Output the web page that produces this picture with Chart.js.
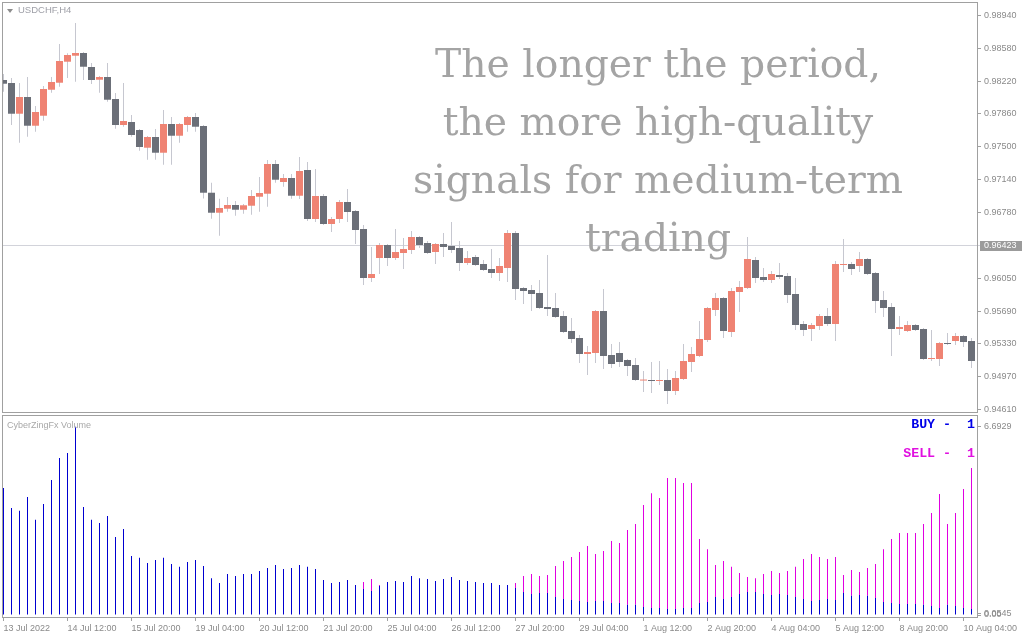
<!DOCTYPE html>
<html>
<head>
<meta charset="utf-8">
<script src="https://cdn.jsdelivr.net/npm/chart.js@4.4.1/dist/chart.umd.min.js"></script>
<style>
html, body { margin: 0; padding: 0; background: #fff; }
#wrap { position: relative; width: 1024px; height: 640px; overflow: hidden; font-family: "Liberation Sans", Arial, sans-serif; }
canvas { position: absolute; left: 0; }
#main { top: 0; }
#vol { top: 414px; }
.lbl { position: absolute; white-space: pre; line-height: 10px; }
#tri { position: absolute; left: 7px; top: 9px; width: 0; height: 0; border-left: 3px solid transparent; border-right: 3px solid transparent; border-top: 4px solid #8c8c8c; }
#title { left: 18px; top: 5px; font-size: 9.5px; color: #9fa0a8; }
#ind { left: 7px; top: 420px; font-size: 9px; color: #a8a8a8; }
.sig { position: absolute; right: 49px; font: bold 13.3px "Liberation Mono", monospace; line-height: 14px; white-space: pre; }
#buy { top: 418px; color: #0000e8; }
#sell { top: 447px; color: #e010e0; }
.note { position: absolute; left: 358px; width: 600px; text-align: center; white-space: nowrap; color: #a4a4a4; font-family: "DejaVu Serif", serif; line-height: 58px; }
</style>
</head>
<body>
<div id="wrap">
  <canvas id="main" width="1024" height="414"></canvas>
  <canvas id="vol" width="1024" height="226"></canvas>
  <div id="tri"></div>
  <div class="lbl" id="title">USDCHF,H4</div>
  <div class="lbl" id="ind">CyberZingFx Volume</div>
  <div class="sig" id="buy">BUY -  1</div>
  <div class="sig" id="sell">SELL -  1</div>
</div>
<script>
// USDCHF H4, bougies
const opens = [
  0.98233, 0.98200, 0.97862, 0.98046, 0.97730, 0.97840, 0.98126, 0.98203, 0.98434, 0.98500,
  0.98530, 0.98376, 0.98236, 0.98266, 0.98024, 0.97738, 0.97771, 0.97683, 0.97488, 0.97606,
  0.97433, 0.97749, 0.97620, 0.97738, 0.97826, 0.97727, 0.96993, 0.96773, 0.96817, 0.96858,
  0.96806, 0.96850, 0.96949, 0.96982, 0.97309, 0.97111, 0.97155, 0.96960, 0.97243, 0.96704,
  0.96957, 0.96649, 0.96704, 0.96891, 0.96792, 0.96594, 0.96055, 0.96275, 0.96418, 0.96275,
  0.96330, 0.96363, 0.96506, 0.96440, 0.96341, 0.96429, 0.96407, 0.96385, 0.96220, 0.96286,
  0.96209, 0.96154, 0.96110, 0.96165, 0.96550, 0.95945, 0.95923, 0.95890, 0.95736, 0.95725,
  0.95637, 0.95472, 0.95395, 0.95219, 0.95230, 0.95692, 0.95208, 0.95230, 0.95153, 0.95098,
  0.94927, 0.94933, 0.94922, 0.94933, 0.94812, 0.94944, 0.95131, 0.95197, 0.95373, 0.95703,
  0.95835, 0.95461, 0.95901, 0.95945, 0.96253, 0.96066, 0.96033, 0.96088, 0.96077, 0.95879,
  0.95549, 0.95494, 0.95527, 0.95637, 0.95549, 0.96198, 0.96209, 0.96187, 0.96264, 0.96110,
  0.95813, 0.95736, 0.95494, 0.95472, 0.95538, 0.95494, 0.95164, 0.95164, 0.95340, 0.95362,
  0.95417, 0.95362
];
const highs = [
  0.98299, 0.98255, 0.98200, 0.98266, 0.97947, 0.98167, 0.98266, 0.98629, 0.98527, 0.98860,
  0.98541, 0.98420, 0.98277, 0.98420, 0.98090, 0.98200, 0.97848, 0.97694, 0.97617, 0.97694,
  0.97903, 0.97826, 0.97760, 0.97837, 0.97870, 0.97738, 0.97103, 0.96927, 0.96946, 0.96902,
  0.96869, 0.97023, 0.97166, 0.97353, 0.97353, 0.97199, 0.97199, 0.97386, 0.97331, 0.97254,
  0.96979, 0.96726, 0.96913, 0.97034, 0.96803, 0.96638, 0.96396, 0.96440, 0.96429, 0.96594,
  0.96495, 0.96572, 0.96517, 0.96462, 0.96440, 0.96550, 0.96671, 0.96462, 0.96352, 0.96308,
  0.96253, 0.96374, 0.96275, 0.96583, 0.96572, 0.95956, 0.95978, 0.96033, 0.96308, 0.95890,
  0.95692, 0.95615, 0.95428, 0.95307, 0.95703, 0.95934, 0.95329, 0.95351, 0.95164, 0.95175,
  0.95032, 0.95131, 0.95142, 0.95054, 0.95032, 0.95329, 0.95296, 0.95582, 0.95736, 0.95890,
  0.95846, 0.95945, 0.96022, 0.96506, 0.96286, 0.96165, 0.96132, 0.96220, 0.96110, 0.96055,
  0.95582, 0.95560, 0.95659, 0.95725, 0.96242, 0.96484, 0.96231, 0.96341, 0.96275, 0.96121,
  0.95912, 0.95780, 0.95637, 0.95582, 0.95549, 0.95505, 0.95483, 0.95351, 0.95450, 0.95450,
  0.95428, 0.95395
];
const lows = [
  0.98104, 0.97738, 0.97543, 0.97609, 0.97664, 0.97785, 0.98093, 0.98159, 0.98255, 0.98214,
  0.98233, 0.98189, 0.98093, 0.97994, 0.97697, 0.97719, 0.97609, 0.97455, 0.97356, 0.97356,
  0.97301, 0.97301, 0.97543, 0.97664, 0.97664, 0.96929, 0.96707, 0.96520, 0.96784, 0.96740,
  0.96762, 0.96751, 0.96784, 0.96839, 0.97103, 0.97059, 0.96927, 0.96924, 0.96682, 0.96671,
  0.96638, 0.96561, 0.96660, 0.96671, 0.96429, 0.95978, 0.96011, 0.96099, 0.96187, 0.96253,
  0.96154, 0.96319, 0.96385, 0.96319, 0.96209, 0.96286, 0.96330, 0.96132, 0.96198, 0.96187,
  0.96132, 0.96055, 0.96022, 0.96011, 0.95813, 0.95769, 0.95692, 0.95714, 0.95637, 0.95615,
  0.95450, 0.95340, 0.95120, 0.94988, 0.95120, 0.95054, 0.95065, 0.95076, 0.94977, 0.94922,
  0.94801, 0.94790, 0.94878, 0.94669, 0.94768, 0.94933, 0.95021, 0.95186, 0.95351, 0.95637,
  0.95395, 0.95406, 0.95681, 0.95934, 0.96000, 0.96011, 0.96000, 0.96044, 0.95780, 0.95483,
  0.95417, 0.95362, 0.95483, 0.95527, 0.95362, 0.96121, 0.96088, 0.96121, 0.96088, 0.95670,
  0.95626, 0.95197, 0.95428, 0.95461, 0.95472, 0.95153, 0.95142, 0.95087, 0.95318, 0.95318,
  0.95296, 0.95065
];
const closes = [
  0.98192, 0.97862, 0.98046, 0.97730, 0.97881, 0.98134, 0.98211, 0.98442, 0.98508, 0.98530,
  0.98379, 0.98233, 0.98266, 0.98016, 0.97738, 0.97782, 0.97628, 0.97496, 0.97606, 0.97433,
  0.97749, 0.97620, 0.97749, 0.97826, 0.97719, 0.96993, 0.96773, 0.96825, 0.96858, 0.96806,
  0.96855, 0.96957, 0.96990, 0.97309, 0.97136, 0.97155, 0.96960, 0.97232, 0.96704, 0.96957,
  0.96649, 0.96704, 0.96891, 0.96781, 0.96583, 0.96055, 0.96099, 0.96418, 0.96275, 0.96341,
  0.96374, 0.96506, 0.96418, 0.96330, 0.96429, 0.96396, 0.96363, 0.96220, 0.96275, 0.96198,
  0.96143, 0.96110, 0.96187, 0.96550, 0.95934, 0.95912, 0.95879, 0.95725, 0.95714, 0.95626,
  0.95461, 0.95384, 0.95219, 0.95241, 0.95692, 0.95197, 0.95109, 0.95131, 0.95087, 0.94933,
  0.94933, 0.94922, 0.94933, 0.94812, 0.94955, 0.95142, 0.95219, 0.95384, 0.95725, 0.95835,
  0.95472, 0.95912, 0.95956, 0.96264, 0.96055, 0.96033, 0.96099, 0.96066, 0.95868, 0.95538,
  0.95483, 0.95538, 0.95637, 0.95549, 0.96209, 0.96209, 0.96154, 0.96264, 0.96099, 0.95802,
  0.95725, 0.95494, 0.95516, 0.95538, 0.95483, 0.95164, 0.95175, 0.95340, 0.95329, 0.95417,
  0.95351, 0.95142
];

// volume indicateur : partie bleue (buy) et partie magenta au-dessus (sell)
const buyVol = [
  4.51, 3.80, 3.70, 4.19, 3.38, 3.94, 4.80, 5.58, 5.76, 6.69,
  3.84, 3.38, 3.27, 3.52, 2.77, 3.06, 2.10, 2.03, 1.85, 1.95,
  2.03, 1.81, 1.71, 1.88, 1.95, 1.74, 1.31, 1.14, 1.46, 1.39,
  1.46, 1.46, 1.56, 1.67, 1.78, 1.63, 1.67, 1.78, 1.71, 1.63,
  1.24, 1.14, 1.17, 1.24, 1.07, 0.92, 0.85, 1.03, 1.17, 1.21,
  1.17, 1.39, 1.31, 1.28, 1.21, 1.28, 1.35, 1.24, 1.21, 1.17,
  1.14, 1.14, 1.07, 1.07, 0.96, 0.82, 0.75, 0.78, 0.78, 0.64,
  0.57, 0.53, 0.50, 0.46, 0.50, 0.50, 0.43, 0.43, 0.36, 0.36,
  0.28, 0.25, 0.25, 0.21, 0.21, 0.25, 0.25, 0.43, 0.46, 0.64,
  0.57, 0.64, 0.75, 0.82, 0.82, 0.75, 0.71, 0.75, 0.71, 0.64,
  0.57, 0.50, 0.53, 0.57, 0.53, 0.78, 0.68, 0.71, 0.68, 0.60,
  0.46, 0.43, 0.39, 0.39, 0.39, 0.36, 0.32, 0.25, 0.36, 0.32,
  0.25, 0.21
];
const sellVol = [
  0, 0, 0, 0, 0, 0, 0, 0, 0, 0,
  0, 0, 0, 0, 0, 0, 0, 0, 0, 0,
  0, 0, 0, 0, 0, 0, 0, 0, 0, 0,
  0, 0, 0, 0, 0, 0, 0, 0, 0, 0,
  0, 0, 0, 0, 0, 0.25, 0.43, 0.04, 0, 0,
  0, 0, 0, 0, 0, 0, 0, 0, 0, 0,
  0, 0, 0, 0, 0.18, 0.57, 0.71, 0.61, 0.64, 1.10,
  1.35, 1.53, 1.74, 1.99, 1.67, 1.77, 2.20, 2.13, 2.66, 2.87,
  3.63, 4.08, 3.91, 4.66, 4.66, 4.44, 4.44, 2.27, 1.88, 1.14,
  1.35, 1.07, 0.74, 0.53, 0.49, 0.71, 0.85, 0.74, 0.85, 1.07,
  1.42, 1.67, 1.53, 1.42, 1.53, 0.64, 0.92, 0.82, 0.99, 1.21,
  1.88, 2.27, 2.52, 2.52, 2.52, 2.87, 3.30, 4.05, 2.87, 3.30,
  4.23, 5.01
];

const priceTicks = [0.98940, 0.98580, 0.98220, 0.97860, 0.97500, 0.97140, 0.96780,
  0.96050, 0.95690, 0.95330, 0.94970, 0.94610];
const lastPrice = 0.96423;
const volTickValues = [6.6929, 0.0545, 0];
const volTickLabels = ['6.6929', '0.0545', '0.00'];
const timeTickIndex = [0, 8, 16, 24, 32, 40, 48, 56, 64, 72, 80, 88, 96, 104, 112, 120];
const timeTickLabels = ['13 Jul 2022', '14 Jul 12:00', '15 Jul 20:00', '19 Jul 04:00', '20 Jul 12:00',
  '21 Jul 20:00', '25 Jul 04:00', '26 Jul 12:00', '27 Jul 20:00', '29 Jul 04:00', '1 Aug 12:00',
  '2 Aug 20:00', '4 Aug 04:00', '5 Aug 12:00', '8 Aug 20:00', '10 Aug 04:00'];
const noteLines = ['The longer the period,', 'the more high-quality', 'signals for medium-term', 'trading'];

const UP = '#ef8373', DOWN = '#6b6f78', WICK = '#c6c7d0';
const BUY_COLOR = '#0000d0', SELL_COLOR = '#e000e0';
const AXIS = '#a0a0a0', LABEL = '#8a8a8a';
const X_MIN = -0.1875, X_MAX = 121.6875;

Chart.defaults.font.family = '"Liberation Sans", Arial, sans-serif';
Chart.defaults.font.size = 9;
Chart.defaults.animation = false;

// cadre gris autour de la zone de tracé
const framePlugin = {
    id: 'frame',
    afterDraw(chart) {
        const { ctx, chartArea: a } = chart;
        ctx.save();
        ctx.strokeStyle = AXIS;
        ctx.lineWidth = 1;
        ctx.strokeRect(a.left + 0.5, a.top + 0.5, a.right - a.left, a.bottom - a.top);
        ctx.restore();
    }
};

// ligne du dernier prix + étiquette sur l'axe
const priceLinePlugin = {
    id: 'priceLine',
    beforeDatasetsDraw(chart) {
        const { ctx, chartArea: a } = chart;
        const y = Math.round(chart.scales.y.getPixelForValue(lastPrice)) + 0.5;
        ctx.save();
        ctx.strokeStyle = '#d2d3da';
        ctx.lineWidth = 1;
        ctx.beginPath();
        ctx.moveTo(a.left, y);
        ctx.lineTo(a.right + 3, y);
        ctx.stroke();
        ctx.restore();
    },
    afterDraw(chart) {
        const { ctx, chartArea: a } = chart;
        const y = Math.round(chart.scales.y.getPixelForValue(lastPrice));
        ctx.save();
        ctx.fillStyle = '#9b9b9b';
        ctx.fillRect(a.right + 3, y - 4, 42, 10);
        ctx.fillStyle = '#ffffff';
        ctx.font = '9px "Liberation Sans", Arial, sans-serif';
        ctx.textBaseline = 'middle';
        ctx.fillText(lastPrice.toFixed(5), a.right + 7, y + 1);
        ctx.restore();
    }
};

const idx = opens.map((_, i) => i);

function xScale(show) {
    const s = {
        type: 'linear', min: X_MIN, max: X_MAX, offset: false,
        grid: { display: false, offset: false },
        border: { display: false },
        display: show
    };
    if (show) {
        s.afterBuildTicks = scale => { scale.ticks = timeTickIndex.map(v => ({ value: v })); };
        s.afterFit = scale => { scale.height = 23; scale.paddingLeft = 0; scale.paddingRight = 0; };
        s.grid = { display: true, drawOnChartArea: false, drawTicks: true, tickLength: 4, color: AXIS, offset: false };
        s.ticks = {
            autoSkip: false, maxRotation: 0, align: 'start', padding: 2, color: LABEL,
            callback: (v, i) => timeTickLabels[i]
        };
    }
    return s;
}

new Chart(document.getElementById('main'), {
    type: 'bar',
    data: {
        datasets: [
            {
                label: 'corps',
                data: idx.map(i => ({ x: i, y: [opens[i], closes[i]] })),
                backgroundColor: idx.map(i => closes[i] >= opens[i] ? UP : DOWN),
                barThickness: 7,
                minBarLength: 1,
                inflateAmount: 0,
                grouped: false,
                order: 0
            },
            {
                label: 'mèches',
                data: idx.map(i => ({ x: i, y: [lows[i], highs[i]] })),
                backgroundColor: WICK,
                barThickness: 1,
                inflateAmount: 0,
                grouped: false,
                order: 1
            }
        ]
    },
    options: {
        responsive: false,
        events: [],
        layout: { padding: { left: 2, top: 2, right: 0, bottom: 2 } },
        plugins: { legend: { display: false }, tooltip: { enabled: false } },
        scales: {
            x: xScale(false),
            y: {
                position: 'right',
                min: 0.94581, max: 0.99091, beginAtZero: false,
                afterBuildTicks: scale => { scale.ticks = priceTicks.map(v => ({ value: v })); },
                afterFit: scale => { scale.width = 47; scale.paddingTop = 0; scale.paddingBottom = 0; },
                grid: { drawOnChartArea: false, tickLength: 4, color: AXIS },
                border: { display: false },
                ticks: { autoSkip: false, padding: 3, color: LABEL, callback: v => v.toFixed(5) }
            }
        }
    },
    plugins: [priceLinePlugin, framePlugin]
});

new Chart(document.getElementById('vol'), {
    type: 'bar',
    data: {
        datasets: [
            {
                label: 'BUY',
                data: idx.map(i => ({ x: i, y: [0, buyVol[i]] })),
                backgroundColor: BUY_COLOR,
                barThickness: 1,
                inflateAmount: 0,
                grouped: false
            },
            {
                label: 'SELL',
                data: idx.map(i => ({ x: i, y: sellVol[i] > 0 ? [buyVol[i], buyVol[i] + sellVol[i]] : null })),
                backgroundColor: SELL_COLOR,
                barThickness: 1,
                inflateAmount: 0,
                grouped: false
            }
        ]
    },
    options: {
        responsive: false,
        events: [],
        layout: { padding: { left: 2, top: 1, right: 0, bottom: 0 } },
        plugins: { legend: { display: false }, tooltip: { enabled: false } },
        scales: {
            x: xScale(true),
            y: {
                position: 'right',
                min: -0.071, max: 7.106, beginAtZero: false,
                afterBuildTicks: scale => { scale.ticks = volTickValues.map(v => ({ value: v })); },
                afterFit: scale => { scale.width = 47; scale.paddingTop = 0; scale.paddingBottom = 0; },
                grid: { drawOnChartArea: false, tickLength: 4, color: AXIS },
                border: { display: false },
                ticks: { autoSkip: false, padding: 3, color: LABEL, callback: (v, i) => volTickLabels[i] }
            }
        }
    },
    plugins: [framePlugin]
});

// texte gris en surimpression, ajusté à la largeur de la première ligne
(function drawNote() {
    const wrap = document.getElementById('wrap');
    const c = document.createElement('canvas').getContext('2d');
    c.font = '100px "DejaVu Serif"';
    const fs = 100 * 446 / c.measureText(noteLines[0]).width;
    c.font = fs + 'px "DejaVu Serif"';
    const m = c.measureText(noteLines[0]);
    const A = m.fontBoundingBoxAscent, D = m.fontBoundingBoxDescent;
    const baselines = [77, 135, 193, 251];
    noteLines.forEach((t, k) => {
        const d = document.createElement('div');
        d.className = 'note';
        d.style.fontSize = fs + 'px';
        d.style.top = (baselines[k] - (58 - (A + D)) / 2 - A) + 'px';
        d.textContent = t;
        wrap.appendChild(d);
    });
})();
</script>
</body>
</html>
